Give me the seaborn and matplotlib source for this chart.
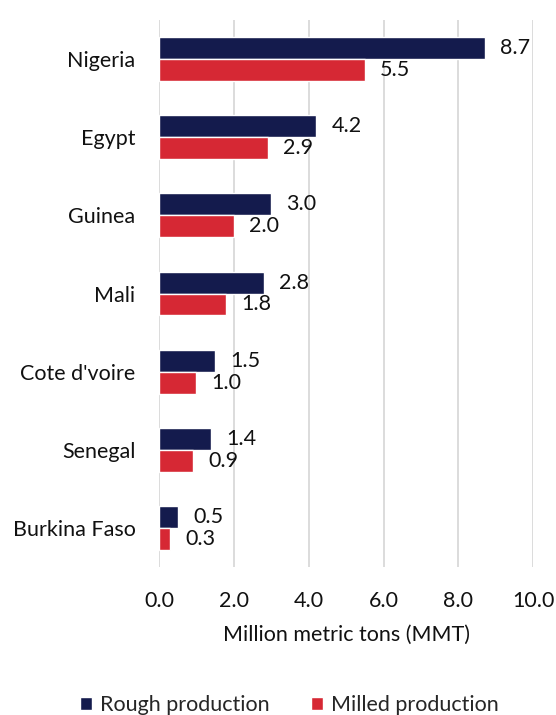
import pandas as pd
import seaborn as sns
import matplotlib.pyplot as plt
from matplotlib.patches import Patch

countries = ["Nigeria", "Egypt", "Guinea", "Mali", "Cote d'voire", "Senegal", "Burkina Faso"]
rough = [8.7, 4.2, 3.0, 2.8, 1.5, 1.4, 0.5]
milled = [5.5, 2.9, 2.0, 1.8, 1.0, 0.9, 0.3]
series = ["Rough production", "Milled production"]
colors = {"Rough production": "#141B4D", "Milled production": "#D62834"}

df = pd.concat([
    pd.DataFrame({"country": countries, "value": rough, "series": series[0]}),
    pd.DataFrame({"country": countries, "value": milled, "series": series[1]}),
], ignore_index=True)

sns.set_theme(style="white")
plt.rcParams["font.family"] = ["Lato", "DejaVu Sans"]
fs = 15.5

fig = plt.figure(figsize=(5.56, 7.15), dpi=100)
ax = fig.add_axes([0.286, 0.207, 0.673, 0.765])

sns.barplot(data=df, y="country", x="value", hue="series", order=countries,
            hue_order=series, palette=colors, orient="h", width=0.56,
            saturation=1, legend=False, ax=ax)

for cont in ax.containers:
    ax.bar_label(cont, fmt="%.1f", padding=11, fontsize=fs, color="#111111")

ax.set_xlim(0, 10)
ax.set_xticks([0, 2, 4, 6, 8, 10])
ax.set_xticklabels([f"{t:.1f}" for t in [0, 2, 4, 6, 8, 10]])
ax.xaxis.grid(True, color="#D9D9D9", linewidth=1.3)
ax.set_axisbelow(True)
for s in ax.spines.values():
    s.set_visible(False)
ax.tick_params(axis="both", length=0, labelsize=fs, colors="#111111")
ax.tick_params(axis="x", pad=17)
ax.tick_params(axis="y", pad=17)
ax.set_ylabel("")
ax.set_xlabel("Million metric tons (MMT)", fontsize=fs, color="#111111", labelpad=10)

handles = [Patch(facecolor=colors[s], label=s) for s in series]
fig.legend(handles=handles, loc="center", bbox_to_anchor=(0.52, 0.014), ncol=2,
           frameon=False, fontsize=fs, handlelength=0.6, handleheight=0.6,
           handletextpad=0.35, columnspacing=1.9)

fig.savefig("out.png", dpi=100)
